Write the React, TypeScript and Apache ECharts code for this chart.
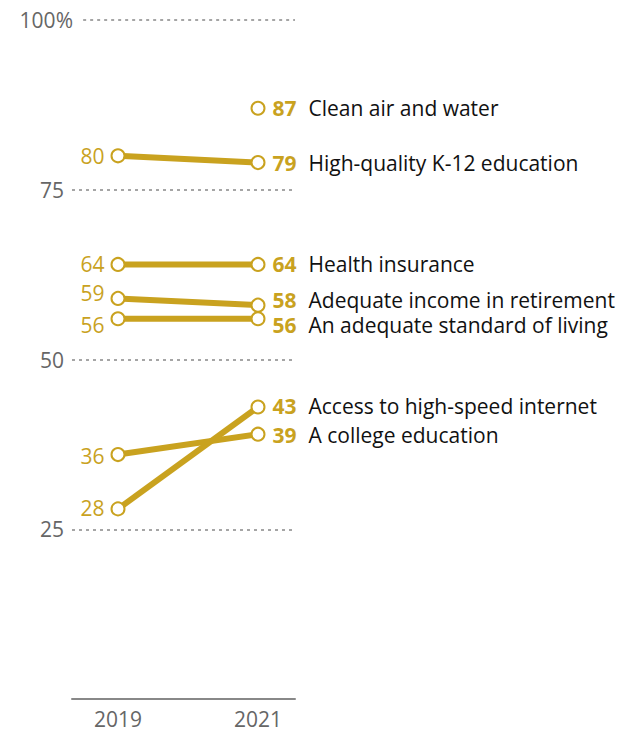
import React, { useEffect, useRef } from "react";
import * as echarts from "echarts";

const years = ["2019", "2021"];
const names = [
  "Clean air and water",
  "High-quality K-12 education",
  "Health insurance",
  "Adequate income in retirement",
  "An adequate standard of living",
  "Access to high-speed internet",
  "A college education",
];
const values2019: (number | null)[] = [null, 80, 64, 59, 56, 28, 36];
const values2021: number[] = [87, 79, 64, 58, 56, 43, 39];
const yTicks = [25, 50, 75, 100];
// label nudges to avoid overlap (px)
const labelNudge = [0, 0, 0, -5, 6, -1, 1];

const GOLD = "#C9A21F";
const GRID_GRAY = "#888";
const FONT = "'Open Sans', Roboto, 'Liberation Sans', Arial, sans-serif";

export default function App() {
  const ref = useRef<HTMLDivElement>(null);
  useEffect(() => {
    document.body.style.margin = "0";
    const chart = echarts.init(ref.current!, null, { renderer: "svg" });
    const series: any[] = names.map((name, i) => {
      const v1 = values2019[i];
      const v2 = values2021[i];
      return {
        type: "line",
        name,
        xAxisIndex: 0,
        yAxisIndex: 0,
        symbol: "circle",
        symbolSize: 13,
        showSymbol: true,
        lineStyle: { color: GOLD, width: 6 },
        itemStyle: { color: "#fff", borderColor: GOLD, borderWidth: 2 },
        emphasis: { disabled: true },
        z: 3,
        data: [
          v1 == null
            ? "-"
            : {
                value: v1,
                label: {
                  show: true,
                  position: "left",
                  distance: 6,
                  offset: [0, labelNudge[i]],
                  formatter: "{c}",
                  color: GOLD,
                  fontFamily: FONT,
                  fontSize: 21,
                  lineHeight: 20,
                },
              },
          {
            value: v2,
            label: {
              show: true,
              position: "right",
              distance: 7,
              offset: [0, labelNudge[i]],
              lineHeight: 20,
              formatter: () => `{v|${v2}}{n|${name}}`,
              rich: {
                v: {
                  color: GOLD,
                  fontWeight: "bold",
                  fontSize: 21,
                  lineHeight: 20,
                  fontFamily: FONT,
                  padding: [0, 12, 0, 0],
                },
                n: { color: "#111", fontSize: 21, lineHeight: 20, fontFamily: FONT },
              },
            },
          },
        ],
      };
    });
    // top (100%) gridline, starting a little to the right so the "%" fits
    series.push({
      type: "line",
      xAxisIndex: 1,
      yAxisIndex: 1,
      data: [],
      silent: true,
      markLine: {
        silent: true,
        symbol: "none",
        label: { show: false },
        lineStyle: { color: GRID_GRAY, type: [3, 4], width: 1.5 },
        emphasis: { disabled: true },
        data: [[{ coord: [0.05, 100] }, { coord: [1, 100] }]],
      },
    });
    chart.setOption({
      animation: false,
      grid: [
        { left: 118, right: 381, top: 20, bottom: 33 },
        { left: 72, right: 344, top: 20, bottom: 33 },
      ],
      xAxis: [
        {
          type: "category",
          gridIndex: 0,
          data: years,
          boundaryGap: false,
          axisLine: { show: false },
          axisTick: { show: false },
          axisLabel: { color: "#666", fontSize: 21, fontFamily: FONT, margin: 9 },
        },
        {
          type: "value",
          gridIndex: 1,
          min: 0,
          max: 1,
          axisLine: { show: true, onZero: false, lineStyle: { color: GRID_GRAY, width: 2 } },
          axisTick: { show: false },
          axisLabel: { show: false },
          splitLine: { show: false },
        },
      ],
      yAxis: [
        { type: "value", gridIndex: 0, min: 0, max: 100, show: false },
        {
          type: "value",
          gridIndex: 1,
          min: 0,
          max: 100,
          interval: 25,
          axisLine: { show: false },
          axisTick: { show: false },
          axisLabel: {
            color: "#666",
            fontSize: 21,
            fontFamily: FONT,
            margin: 8,
            formatter: (v: number) =>
              yTicks.includes(v) ? (v === 100 ? "{p|100%}" : String(v)) : "",
            rich: {
              p: {
                color: "#666",
                fontSize: 21,
                fontFamily: FONT,
                padding: [0, -9, 0, 0],
              },
            },
          },
          splitLine: {
            show: true,
            showMinLine: false,
            showMaxLine: false,
            lineStyle: { color: GRID_GRAY, type: [3, 4], width: 1.5 },
          },
        },
      ],
      series,
    });
    return () => chart.dispose();
  }, []);
  return <div ref={ref} style={{ width: 639, height: 732 }} />;
}
